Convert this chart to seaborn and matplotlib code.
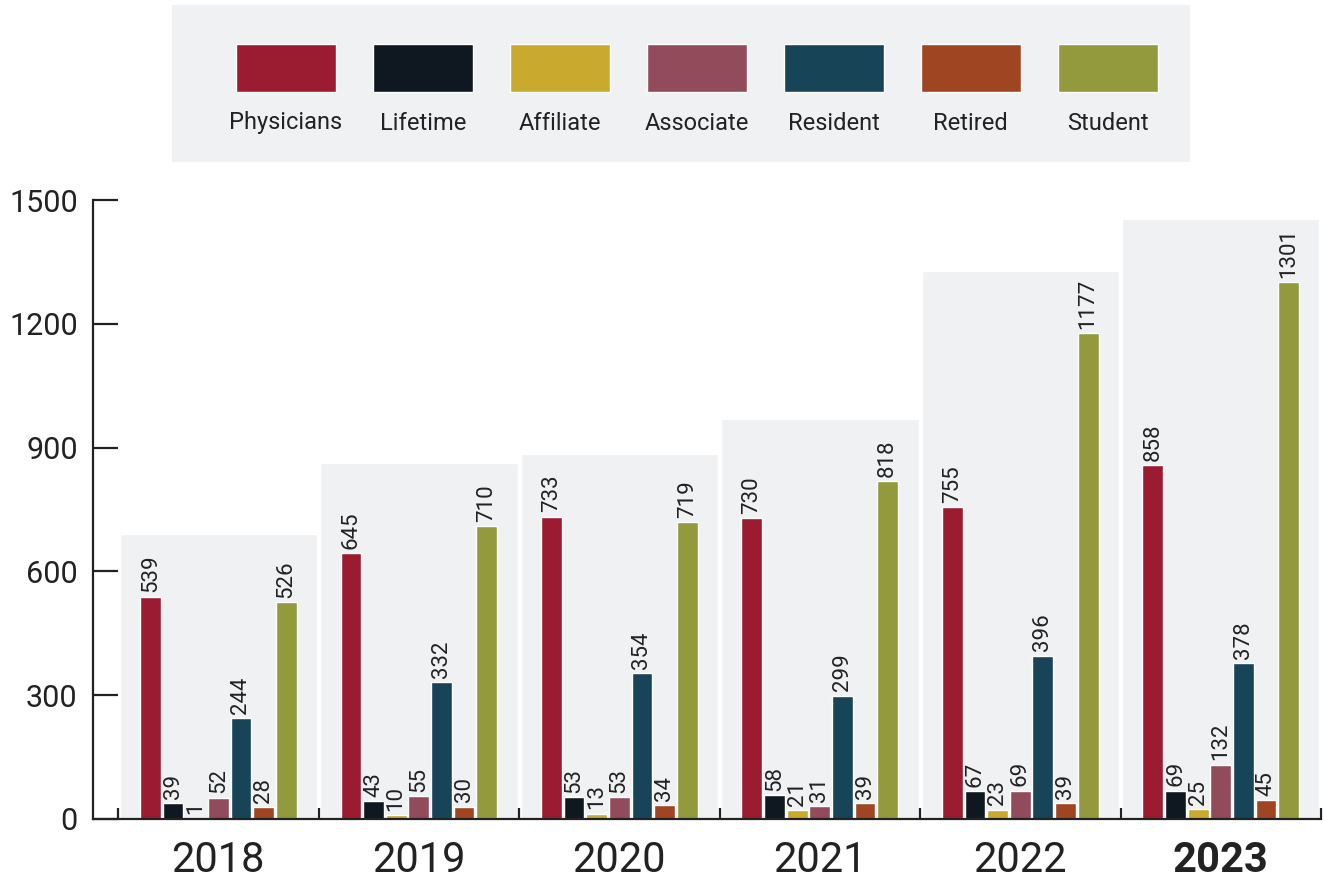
import pandas as pd
import numpy as np
import matplotlib
matplotlib.use('Agg')
import matplotlib.pyplot as plt
import seaborn as sns

years = ['2018', '2019', '2020', '2021', '2022', '2023']
categories = ['Physicians', 'Lifetime', 'Affiliate', 'Associate', 'Resident', 'Retired', 'Student']
colors = ['#9b1b30', '#0f1820', '#c9a92e', '#924b5b', '#174456', '#a04522', '#929a3d']

physicians = [539, 645, 733, 730, 755, 858]
lifetime = [39, 43, 53, 58, 67, 69]
affiliate = [1, 10, 13, 21, 23, 25]
associate = [52, 55, 53, 31, 69, 132]
resident = [244, 332, 354, 299, 396, 378]
retired = [28, 30, 34, 39, 39, 45]
student = [526, 710, 719, 818, 1177, 1301]

series = [physicians, lifetime, affiliate, associate, resident, retired, student]
rows = []
for cat, vals in zip(categories, series):
    for yr, v in zip(years, vals):
        rows.append({'year': yr, 'category': cat, 'count': v})
df = pd.DataFrame(rows)

sns.set_style('white')
plt.rcParams['font.family'] = ['Roboto', 'DejaVu Sans']
text_color = '#222222'
bg = '#f0f1f3'

fig = plt.figure(figsize=(13.23, 8.82), dpi=100)
ax = fig.add_axes([93 / 1323, 1 - 819 / 882, (1321 - 93) / 1323, (819 - 200) / 882])

# grey panel behind each year group
group_max = df.groupby('year', sort=False)['count'].max().values
ax.bar(range(len(years)), group_max + 152, width=0.985, color=bg, zorder=0)

sns.barplot(data=df, x='year', y='count', hue='category', hue_order=categories,
            order=years, palette=colors, width=0.79, gap=0.08, saturation=1,
            legend=False, ax=ax, zorder=2)

for cont in ax.containers[1:]:
    ax.bar_label(cont, rotation=90, padding=3, fontsize=16, color=text_color)

ax.set_xlim(-0.625, 5.5)
ax.set_ylim(0, 1500)
ax.set_yticks([0, 300, 600, 900, 1200, 1500])
ax.set_xlabel('')
ax.set_ylabel('')
for s in ['top', 'right']:
    ax.spines[s].set_visible(False)
for s in ['left', 'bottom']:
    ax.spines[s].set_color(text_color)
    ax.spines[s].set_linewidth(1.6)
ax.tick_params(axis='y', direction='in', length=18, width=1.6, color=text_color,
               labelsize=22, labelcolor=text_color, pad=11, left=True)
ax.set_xticks(np.arange(len(years)))
ax.set_xticklabels(years)
ax.tick_params(axis='x', which='major', length=0, labelsize=30, labelcolor=text_color, pad=15)
ax.set_xticks(np.arange(-0.5, len(years)), minor=True)
ax.tick_params(axis='x', which='minor', direction='in', length=8, width=1.6, color=text_color, bottom=True)
ax.get_xticklabels()[-1].set_fontweight('bold')
ax.set_facecolor('white')

# legend panel: swatches above labels
lax = fig.add_axes([172 / 1323, 1 - 162 / 882, 1018 / 1323, 157 / 882])
lax.set_facecolor(bg)
lax.set_xlim(-0.832, 6.6)
lax.set_ylim(157, 0)
lax.bar(range(len(categories)), 48, bottom=39, width=0.73, color=colors)
for i, cat in enumerate(categories):
    lax.text(i, 118, cat, ha='center', va='center', fontsize=17, color=text_color)
for s in lax.spines.values():
    s.set_visible(False)
lax.set_xticks([])
lax.set_yticks([])

fig.savefig('out.png', dpi=100)
